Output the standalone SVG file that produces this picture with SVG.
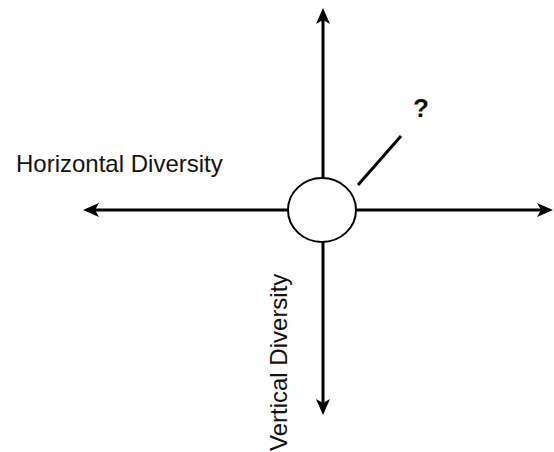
<svg xmlns="http://www.w3.org/2000/svg" width="554" height="452" viewBox="0 0 554 452">
<style>
.ax{stroke:#000;stroke-width:3;fill:none}
.lbl{font-family:"Liberation Sans",Arial,sans-serif;font-size:24px;fill:#111}
</style>
<defs>
<marker id="ah" viewBox="0 0 16 14" refX="4" refY="7" markerWidth="16" markerHeight="14" markerUnits="userSpaceOnUse" orient="auto">
<path d="M0,0 L16,7 L0,14 L4,7 Z" fill="#000"/>
</marker>
</defs>
<rect width="554" height="452" fill="#fff"/>
<g id="connectors">
<line class="ax" x1="323" y1="210" x2="323" y2="20" marker-end="url(#ah)"/>
<line class="ax" x1="323" y1="210" x2="323" y2="403" marker-end="url(#ah)"/>
<line class="ax" x1="322" y1="210" x2="95" y2="210" marker-end="url(#ah)"/>
<line class="ax" x1="322" y1="210" x2="541" y2="210" marker-end="url(#ah)"/>
<line class="ax" x1="358" y1="185" x2="401" y2="136"/>
</g>
<g id="center">
<ellipse cx="322" cy="210" rx="34" ry="32" fill="#fff" stroke="#000" stroke-width="2"/>
</g>
<g id="labels">
<text class="lbl" x="16" y="172">Horizontal Diversity</text>
<text class="lbl" transform="translate(287,451) rotate(-90)" x="0" y="0">Vertical Diversity</text>
<text class="lbl" x="421" y="117" text-anchor="middle" font-weight="bold" style="font-size:26px">?</text>
</g>
</svg>
